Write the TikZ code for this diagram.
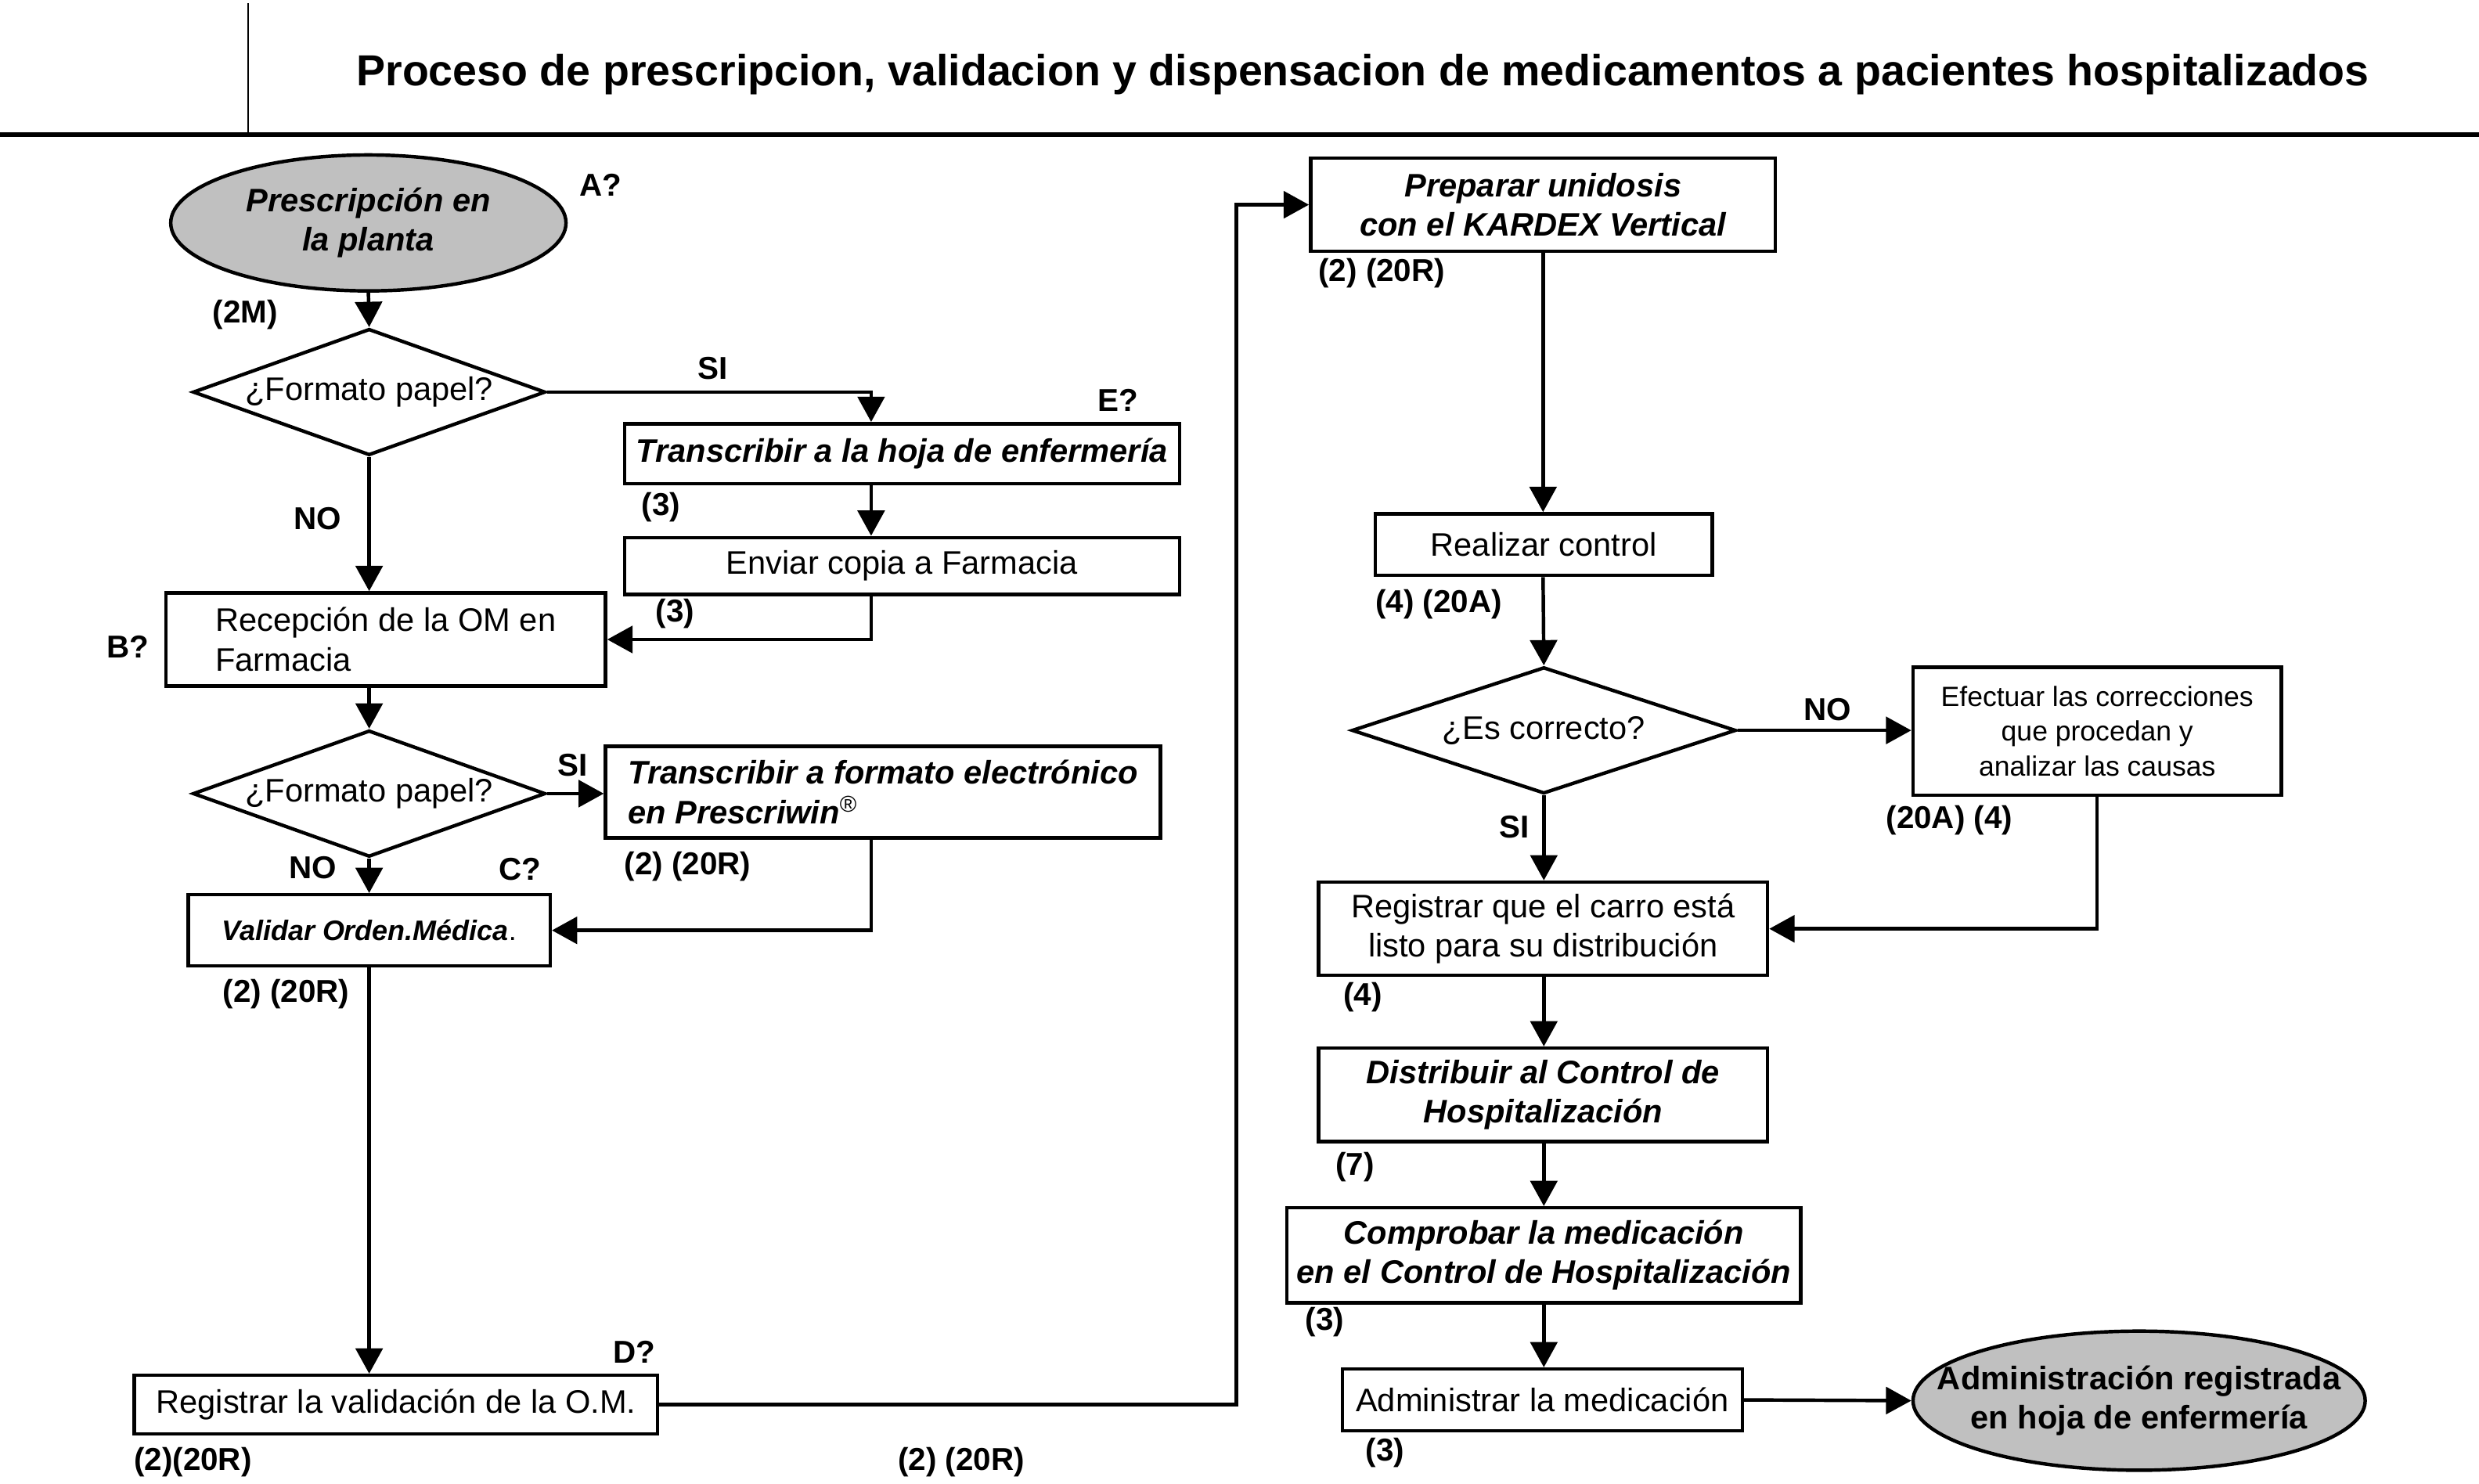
\documentclass[tikz,border=0pt]{standalone}
\usepackage{fontspec}
\setmainfont{Liberation Sans}
\usetikzlibrary{arrows.meta,shapes.geometric}
\definecolor{termgray}{HTML}{C0C0C0}
\begin{document}
\begin{tikzpicture}[x=0.5pt,y=-0.5pt,
  line width=1.1pt,
  arr/.style={-{Triangle[length=8pt,width=8.5pt]}},
  box/.style={draw, inner sep=0pt, align=center, font=\fontsize{10.3}{12.5}\selectfont},
  bi/.style={font=\fontsize{10.3}{12.5}\selectfont\bfseries\itshape},
  dec/.style={draw, diamond, aspect=2.8, inner sep=0pt, minimum width=111.5pt, minimum height=40pt, font=\fontsize{10.3}{12.5}\selectfont},
  term/.style={draw, ellipse, fill=termgray, inner sep=0pt},
  lab/.style={font=\fontsize{10}{12}\selectfont\bfseries, inner sep=0pt},
]
\useasboundingbox (0,0) rectangle (1568,938.7);
% header
\coordinate (hv1) at (157,2);
\coordinate (hv2) at (157,86);
\coordinate (hl1) at (0,85);
\coordinate (hl2) at (1568,85);
\draw[line width=0.5pt] (hv1) -- (hv2);
\draw[line width=1.5pt] (hl1) -- (hl2);
\node[font=\fontsize{13.75}{16}\selectfont\bfseries] (title) at (862,47) {Proceso de prescripcion, validacion y dispensacion de medicamentos a pacientes hospitalizados};

% left column
\node[term, minimum width=125pt, minimum height=43pt, label={[bi,align=center]center:Prescripción en\\la planta}] (e1) at (233,141) {};
\node[dec] (d1) at (233.5,248) {¿Formato papel?};
\node[box, bi, minimum width=175.5pt, minimum height=19pt] (t1) at (570.5,287) {Transcribir a la hoja de enfermería};
\node[box, minimum width=175.5pt, minimum height=18pt] (env) at (570.5,358) {Enviar copia a Farmacia};
\node[box, align=left, minimum width=139pt, minimum height=29.5pt] (rec) at (244,404.5) {Recepción de la OM en\\Farmacia};
\node[dec] (d2) at (233.5,502) {¿Formato papel?};
\node[box, bi, align=left, minimum width=175.5pt, minimum height=29pt] (t2) at (558.5,501) {Transcribir a formato electrónico\\en Prescriwin\textsuperscript{\normalfont\textregistered}};
\node[box, minimum width=114.5pt, minimum height=22.5pt, font=\fontsize{8.9}{10.5}\selectfont\bfseries\itshape] (val) at (233.5,588.5) {Validar Orden.Médica\textnormal{.}};
\node[box, minimum width=165.5pt, minimum height=18.5pt] (reg) at (250.5,888.5) {Registrar la validación de la O.M.};

% right column
\node[box, bi, minimum width=147pt, minimum height=29.5pt] (prep) at (976,129.5) {Preparar unidosis\\con el KARDEX Vertical};
\node[box, minimum width=106.5pt, minimum height=19.5pt] (rc) at (976.5,344.5) {Realizar control};
\node[dec, aspect=3, minimum width=121.5pt] (d3) at (976.5,462) {¿Es correcto?};
\node[box, minimum width=116.5pt, minimum height=40.5pt, font=\fontsize{8.8}{11}\selectfont] (ef) at (1326.5,462.5) {Efectuar las correcciones\\que procedan y\\analizar las causas};
\node[box, minimum width=142pt, minimum height=29.5pt] (rq) at (976,587.5) {Registrar que el carro está\\listo para su distribución};
\node[box, bi, minimum width=142pt, minimum height=29.5pt] (dist) at (976,692.5) {Distribuir al Control de\\Hospitalización};
\node[box, bi, minimum width=162.5pt, minimum height=30pt] (comp) at (976.5,794) {Comprobar la medicación\\en el Control de Hospitalización};
\node[box, minimum width=126.5pt, minimum height=19.5pt] (adm) at (975.5,885.5) {Administrar la medicación};
\node[term, minimum width=143pt, minimum height=44pt, label={[align=center,font=\fontsize{10.3}{12.5}\selectfont\bfseries]center:Administración registrada\\en hoja de enfermería}] (e2) at (1353,886) {};

% labels
\node[lab] (lA) at (380,117) {A?};
\node[lab] (l2M) at (155,199) {(2M)};
\node[lab] (lSI1) at (451,233) {SI};
\node[lab] (lE) at (707,253) {E?};
\node[lab] (l3a) at (418,321) {(3)};
\node[lab] (l3b) at (427,388) {(3)};
\node[lab] (lNO1) at (201,328) {NO};
\node[lab] (lB) at (81,409) {B?};
\node[lab] (lSI2) at (362,484) {SI};
\node[lab] (l220a) at (435,548) {(2) (20R)};
\node[lab] (lNO2) at (198,549) {NO};
\node[lab] (lC) at (329,550) {C?};
\node[lab] (l220b) at (181,629) {(2) (20R)};
\node[lab] (lD) at (401,855) {D?};
\node[lab] (l220c) at (122,925) {(2)(20R)};
\node[lab] (l220d) at (608,925) {(2) (20R)};
\node[lab] (l220e) at (874,173) {(2) (20R)};
\node[lab] (l420) at (910,382) {(4) (20A)};
\node[lab] (lNO3) at (1156,449) {NO};
\node[lab] (l204) at (1233,519) {(20A) (4)};
\node[lab] (lSI3) at (958,523) {SI};
\node[lab] (l4) at (862,631) {(4)};
\node[lab] (l7) at (857,738) {(7)};
\node[lab] (l3c) at (838,836) {(3)};
\node[lab] (l3d) at (876,919) {(3)};

% connectors
\coordinate (cx1) at (551,0);
\coordinate (cx2) at (782,0);
\draw[arr] (e1.south) -- (d1.north);
\draw[arr] (d1.east) -| (cx1 |- t1.north);
\draw[arr] (cx1 |- t1.south) -- (cx1 |- env.north);
\draw[arr] (cx1 |- env.south) |- (rec.east);
\draw[arr] (d1.south) -- (rec.north -| d1.south);
\draw[arr] (rec.south -| d1.south) -- (d2.north);
\draw[arr] (d2.east) -- (t2.west |- d2.east);
\draw[arr] (cx1 |- t2.south) |- (val.east);
\draw[arr] (d2.south) -- (val.north -| d2.south);
\draw[arr] (val.south -| d2.south) -- (reg.north -| d2.south);
\draw[arr] (reg.east) -- (reg.east -| cx2) |- (prep.west);
\draw[arr] (prep.south) -- (rc.north -| prep.south);
\draw[arr] (rc.south -| prep.south) -- (d3.north);
\draw[arr] (d3.east) -- (ef.west |- d3.east);
\draw[arr] (ef.south) |- (rq.east);
\draw[arr] (d3.south) -- (rq.north -| d3.south);
\draw[arr] (rq.south -| d3.south) -- (dist.north -| d3.south);
\draw[arr] (dist.south -| d3.south) -- (comp.north -| d3.south);
\draw[arr] (comp.south -| d3.south) -- (adm.north -| d3.south);
\draw[arr] (adm.east) -- (e2.west);
\end{tikzpicture}
\end{document}
